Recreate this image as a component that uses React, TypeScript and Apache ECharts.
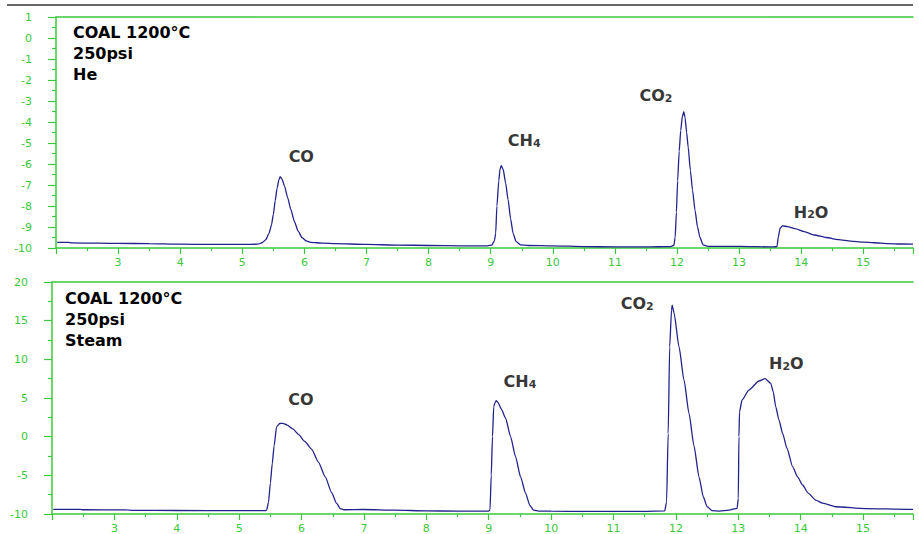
import React, { useEffect, useRef } from "react";
import * as echarts from "echarts";

// ---------- Data ----------
const heTime = [2.02, 2.2, 2.25, 2.7, 3.0, 3.5, 4.0, 4.5, 5.0, 5.25, 5.32, 5.38, 5.43, 5.47, 5.5, 5.53, 5.56, 5.59, 5.61, 5.64, 5.68, 5.73, 5.78, 5.84, 5.9, 5.96, 6.03, 6.1, 6.3, 6.5, 7.0, 7.5, 8.0, 8.5, 8.95, 9.02, 9.06, 9.08, 9.1, 9.13, 9.15, 9.17, 9.2, 9.24, 9.28, 9.32, 9.36, 9.41, 9.48, 9.6, 10.0, 10.5, 11.0, 11.5, 11.9, 11.95, 11.97, 11.99, 12.01, 12.035, 12.06, 12.085, 12.11, 12.13, 12.155, 12.18, 12.215, 12.25, 12.29, 12.33, 12.37, 12.42, 12.5, 13.0, 13.55, 13.61, 13.63, 13.66, 13.7, 13.78, 13.9, 14.05, 14.21, 14.4, 14.6, 14.8, 15.0, 15.17, 15.4, 15.6, 15.8];
const heSignal = [-9.73, -9.73, -9.76, -9.77, -9.78, -9.79, -9.82, -9.83, -9.83, -9.82, -9.75, -9.6, -9.3, -8.9, -8.4, -7.75, -7.15, -6.75, -6.6, -6.72, -7.05, -7.6, -8.15, -8.75, -9.2, -9.5, -9.66, -9.73, -9.77, -9.79, -9.83, -9.86, -9.88, -9.9, -9.9, -9.86, -9.65, -9.3, -8.0, -6.8, -6.25, -6.08, -6.25, -6.9, -7.7, -8.6, -9.3, -9.7, -9.85, -9.88, -9.9, -9.93, -9.95, -9.95, -9.93, -9.87, -9.5, -8.3, -6.8, -5.4, -4.4, -3.75, -3.51, -3.8, -4.5, -5.2, -6.3, -7.25, -8.2, -9.0, -9.5, -9.85, -9.92, -9.92, -9.95, -9.93, -9.5, -9.05, -8.95, -8.98, -9.08, -9.22, -9.38, -9.5, -9.6, -9.67, -9.72, -9.75, -9.79, -9.81, -9.82];

const steamTime = [2.02, 2.45, 2.5, 3.2, 3.3, 4.0, 5.0, 5.42, 5.44, 5.47, 5.5, 5.53, 5.56, 5.6, 5.65, 5.7, 5.77, 5.86, 5.95, 6.05, 6.16, 6.27, 6.38, 6.48, 6.56, 6.62, 6.68, 7.0, 7.5, 8.0, 8.5, 9.0, 9.02, 9.04, 9.06, 9.08, 9.1, 9.12, 9.15, 9.2, 9.27, 9.35, 9.43, 9.51, 9.59, 9.66, 9.72, 9.8, 10.0, 10.5, 11.0, 11.5, 11.82, 11.85, 11.876, 11.9, 11.93, 11.94, 11.97, 12.05, 12.13, 12.21, 12.29, 12.37, 12.44, 12.5, 12.58, 12.7, 12.85, 12.98, 13.0, 13.01, 13.02, 13.06, 13.17, 13.33, 13.43, 13.52, 13.56, 13.6, 13.65, 13.71, 13.78, 13.87, 13.95, 14.03, 14.12, 14.24, 14.35, 14.56, 15.04, 15.71, 15.8];
const steamSignal = [-9.4, -9.4, -9.45, -9.47, -9.53, -9.55, -9.57, -9.57, -9.5, -8.5, -6.0, -3.5, -1.2, 1.3, 1.7, 1.73, 1.5, 1.0, 0.3, -0.6, -1.6, -3.3, -5.2, -7.2, -8.6, -9.3, -9.45, -9.42, -9.5, -9.6, -9.62, -9.64, -9.5, -5.0, 0.0, 3.87, 4.4, 4.65, 4.4, 3.6, 2.4, 0.0, -2.6, -5.2, -7.3, -8.9, -9.5, -9.62, -9.64, -9.66, -9.66, -9.65, -9.6, -8.5, 0.4, 11.6, 16.4, 17.0, 16.0, 11.6, 7.3, 3.0, -1.2, -5.2, -7.8, -9.05, -9.57, -9.62, -9.5, -9.27, -8.0, 0.0, 3.23, 4.74, 6.03, 7.2, 7.5, 6.9, 5.8, 3.87, 2.2, 0.43, -1.5, -3.88, -5.2, -6.25, -7.3, -8.2, -8.6, -9.06, -9.3, -9.4, -9.4];

// peak annotations: [formula, subscript]
const peakNames = [["CO", ""], ["CH", "4"], ["CO", "2"], ["H", "2O"]];
const heLabelX = [5.95, 9.54, 11.66, 14.16];
const heLabelY = [-5.62, -4.9, -2.76, -8.29];
const steamLabelX = [5.99, 9.5, 11.38, 13.77];
const steamLabelY = [4.87, 7.07, 17.16, 9.4];

const heConditions = ["COAL 1200°C", "250psi", "He"];
const steamConditions = ["COAL 1200°C", "250psi", "Steam"];

const xMin = 2;
const xMax = 15.8;

// ---------- Styling ----------
const GREEN = "#3cc83c";
const LINE = "#22228c";
const FONT = "DejaVu Sans";

function pairs(t: number[], v: number[]) {
  return t.map((x, i) => [x, v[i]]);
}

function labelText(n: string[]) {
  if (n[1] === "2O") return "{b|H}{s|2}{b|O}";
  return n[1] ? `{b|${n[0]}}{s|${n[1]}}` : `{b|${n[0]}}`;
}

const rich = {
  b: { fontFamily: FONT, fontWeight: "bold", fontSize: 16, color: "#000", lineHeight: 16, textBorderWidth: 0 },
  s: { fontFamily: FONT, fontWeight: "bold", fontSize: 11, color: "#000", lineHeight: 11, verticalAlign: "bottom", textBorderWidth: 0 },
};

function xAxisCfg(gridIndex: number) {
  return {
    type: "value",
    gridIndex,
    min: xMin,
    max: xMax,
    interval: 1,
    axisLine: { show: true, onZero: false, lineStyle: { color: GREEN, width: 1.5 } },
    axisTick: { show: true, length: 6, lineStyle: { color: GREEN, width: 1.2 } },
    minorTick: { show: true, splitNumber: 2, length: 3, lineStyle: { color: GREEN, width: 1.2 } },
    axisLabel: { color: GREEN, fontFamily: FONT, fontSize: 11, margin: 9, showMinLabel: false, showMaxLabel: false },
    splitLine: { show: false },
    minorSplitLine: { show: false },
  };
}

function topFrameAxis(gridIndex: number) {
  return {
    type: "value",
    gridIndex,
    position: "top",
    min: xMin,
    max: xMax,
    axisLine: { show: true, onZero: false, lineStyle: { color: GREEN, width: 1.5 } },
    axisTick: { show: false },
    minorTick: { show: false },
    axisLabel: { show: false },
    splitLine: { show: false },
    minorSplitLine: { show: false },
  };
}

function yAxisCfg(gridIndex: number, min: number, max: number, interval: number) {
  return {
    type: "value",
    gridIndex,
    min,
    max,
    interval,
    axisLine: { show: true, onZero: false, lineStyle: { color: GREEN, width: 1.5 } },
    axisTick: { show: true, length: 8, lineStyle: { color: GREEN, width: 1.2 } },
    minorTick: { show: true, splitNumber: 2, length: 4, lineStyle: { color: GREEN, width: 1.2 } },
    axisLabel: { color: GREEN, fontFamily: FONT, fontSize: 11, margin: 24 },
    splitLine: { show: false },
    minorSplitLine: { show: false },
  };
}

function labelSeries(xIdx: number, yIdx: number, xs: number[], ys: number[]) {
  return {
    type: "scatter",
    xAxisIndex: xIdx,
    yAxisIndex: yIdx,
    symbolSize: 0,
    silent: true,
    data: xs.map((x, i) => ({ value: [x, ys[i]], name: labelText(peakNames[i]) })),
    label: {
      show: true,
      position: "inside",
      color: "#000",
      textBorderWidth: 0,
      formatter: (p: any) => p.name,
      rich,
    },
  };
}

export default function App() {
  const ref = useRef<HTMLDivElement>(null);
  useEffect(() => {
    if (!ref.current) return;
    const chart = echarts.init(ref.current, null, { renderer: "svg" });
    chart.setOption({
      animation: false,
      backgroundColor: "#fff",
      grid: [
        { left: 56, top: 17, right: 6, height: 231 },
        { left: 52, top: 282, right: 6, height: 232 },
      ],
      xAxis: [xAxisCfg(0), xAxisCfg(1), topFrameAxis(0), topFrameAxis(1)],
      yAxis: [yAxisCfg(0, -10, 1, 1), yAxisCfg(1, -10, 20, 5)],
      series: [
        {
          type: "line",
          xAxisIndex: 0,
          yAxisIndex: 0,
          data: pairs(heTime, heSignal),
          showSymbol: false,
          smooth: 0.2,
          smoothMonotone: "x",
          lineStyle: { color: LINE, width: 1.3 },
        },
        {
          type: "line",
          xAxisIndex: 1,
          yAxisIndex: 1,
          data: pairs(steamTime, steamSignal),
          showSymbol: false,
          smooth: 0.2,
          smoothMonotone: "x",
          lineStyle: { color: LINE, width: 1.3 },
        },
        labelSeries(0, 0, heLabelX, heLabelY),
        labelSeries(1, 1, steamLabelX, steamLabelY),
      ],
      graphic: [
        { type: "line", shape: { x1: 7, y1: 5, x2: 913, y2: 5 }, style: { stroke: "#333", lineWidth: 1.5 } },
        {
          type: "text",
          x: 73,
          y: 22,
          style: { text: heConditions.join("\n"), fontFamily: FONT, fontWeight: "bold", fontSize: 16, lineHeight: 21, fill: "#000" },
        },
        {
          type: "text",
          x: 65,
          y: 288,
          style: { text: steamConditions.join("\n"), fontFamily: FONT, fontWeight: "bold", fontSize: 16, lineHeight: 21, fill: "#000" },
        },
      ],
    });
    return () => chart.dispose();
  }, []);
  return <div ref={ref} style={{ position: "absolute", left: 0, top: 0, width: 919, height: 534 }} />;
}
